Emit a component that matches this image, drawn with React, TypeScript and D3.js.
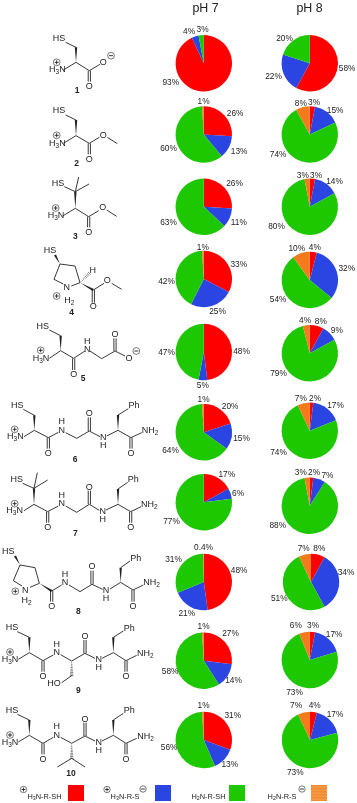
import React from 'react';
import * as d3 from 'd3';

const colours = ['#ff0000', '#2b45e2', '#1ec800', '#f47a1c'];
const ink = '#222';
const font = 'Liberation Sans, Arial, sans-serif';

// percentages, clockwise from 12 o'clock: R-SH+, R-S zwitterion, neutral thiol, thiolate
const ph7 = [
  [93, 4, 3, 0],
  [26, 13, 60, 1],
  [26, 11, 63, 0],
  [33, 25, 42, 1],
  [48, 5, 47, 0],
  [20, 15, 64, 1],
  [17, 6, 77, 0],
  [48, 21, 31, 0.4],
  [27, 14, 58, 1],
  [31, 13, 56, 1],
];
const ph8 = [
  [58, 22, 20, 0],
  [3, 15, 74, 8],
  [3, 14, 80, 3],
  [4, 32, 54, 10],
  [8, 9, 79, 4],
  [2, 17, 74, 7],
  [2, 7, 88, 3],
  [8, 34, 51, 7],
  [3, 17, 73, 6],
  [4, 17, 73, 7],
];

// pie layout
const ph7X = [203.8, 203.8, 203.8, 203.8, 203.8, 203.8, 203.8, 203.8, 203.8, 203.8];
const ph8X = [309.8, 309.8, 309.8, 309.8, 309.8, 309.8, 309.8, 311, 309.8, 310];
const ph7Y = [63.3, 134.5, 206.8, 279, 352, 432.2, 502.3, 582, 660.7, 740];
const ph8Y = [63.3, 134.5, 206.8, 280, 353.3, 430.7, 505.7, 582, 660, 740];
const radius = 28.2;

// where each % label sits relative to its pie centre (hand placed in the original figure)
type Off = [number, number];
const ph7LabelOffsets: Off[][] = [
  [[-33, 18.3], [-14.7, -32], [-1.3, -34]],
  [[31.3, -21.8], [35.3, 16.2], [-35.3, 13.8], [-0.3, -33.5]],
  [[30.7, -23.7], [35, 15.7], [-35.3, 15]],
  [[35, -14.7], [13.7, 32.3], [-37.3, 2], [-1, -32.3]],
  [[37.7, -1.3], [-1, 33.3], [-37.3, 0]],
  [[26.3, -25.8], [37.7, 5.5], [-33.3, 17.8], [-0.3, -33.5]],
  [[23, -28], [34.3, -9.7], [-32.3, 19]],
  [[35.3, -12], [-17, 31.3], [-30.3, -23.3], [-0.3, -35]],
  [[26.7, -27.7], [29.7, 19.3], [-33.7, 10.3], [-0.3, -35]],
  [[29, -25], [26, 24.3], [-34.7, 7], [-0.3, -35.3]],
];
const ph8LabelOffsets: Off[][] = [
  [[37.3, 4.7], [-36.3, 12.3], [-25.3, -25.7]],
  [[4.3, -32.8], [25.3, -24.8], [-31.7, 19.2], [-9, -31.8]],
  [[6.3, -32], [24.7, -25.7], [-33.3, 19.3], [-7, -32.3]],
  [[5, -33.3], [37, -11.7], [-31.7, 18.7], [-13, -32]],
  [[11, -32.3], [27, -23.3], [-31.3, 20], [-4.7, -33]],
  [[5.3, -32.7], [25.7, -26], [-31.3, 21], [-9, -32.3]],
  [[4.3, -33.3], [17.7, -30.3], [-32, 19], [-9, -33.3]],
  [[8.3, -34], [35, -9.7], [-31.7, 16], [-7.3, -34]],
  [[3.3, -35], [24.3, -25.7], [-15.3, 32], [-14, -34.7]],
  [[4.7, -35.3], [25, -25.7], [-14.7, 32], [-14, -35]],
];

const pie = d3.pie<number>().sort(null).value(d => d);
const arc = d3.arc<d3.PieArcDatum<number>>().innerRadius(0).outerRadius(radius);

type Seg = [number, number, number, number];
type Atom = [string, number, number];
type Mol = {
  dy: number;
  bonds: Seg[];
  doubles: Seg[];
  wedges: Seg[];
  hashes?: Seg[];
  atoms: Atom[];
  plus: [number, number];
  minus?: [number, number];
  label: Atom;
};

// structures traced at 3x page scale, dy shifts them down the page
const molecules: Mol[] = [
  {
    dy: 0,
    bonds: [[197, 127, 228, 142], [228, 187, 190, 210], [228, 187, 268, 212], [268, 212, 300, 193]],
    doubles: [[268, 212, 268, 245]],
    wedges: [[228, 187, 228, 142]],
    atoms: [['HS', 177, 113], ['H3N', 172, 207], ['O', 310, 185], ['O', 268, 257]],
    plus: [170, 187],
    minus: [333, 167],
    label: ['1', 231, 271],
  },
  {
    dy: 0,
    bonds: [[197, 345, 228, 360], [228, 407, 190, 430], [228, 407, 268, 430], [268, 430, 298, 412], [322, 412, 352, 431]],
    doubles: [[268, 430, 268, 463]],
    wedges: [[228, 407, 228, 360]],
    atoms: [['HS', 177, 330], ['H3N', 172, 427], ['O', 310, 403], ['O', 268, 476]],
    plus: [170, 406],
    label: ['2', 230, 489],
  },
  {
    dy: 0,
    bonds: [[193, 560, 226, 575], [226, 575, 236, 531], [226, 575, 267, 552], [226, 625, 188, 648], [226, 625, 266, 650], [266, 650, 296, 632], [320, 630, 350, 649]],
    doubles: [[266, 650, 266, 682]],
    wedges: [[226, 625, 226, 575]],
    atoms: [['HS', 174, 548], ['H3N', 168, 645], ['O', 308, 621], ['O', 266, 694]],
    plus: [167, 624],
    label: ['3', 226, 708],
  },
  {
    dy: 0,
    bonds: [[180, 792, 225, 798], [225, 798, 240, 848], [180, 792, 162, 838], [162, 838, 190, 852], [214, 858, 240, 848], [280, 870, 312, 850], [335, 850, 365, 868]],
    doubles: [[280, 870, 280, 908]],
    wedges: [[180, 792, 165, 765], [240, 848, 280, 870]],
    hashes: [[240, 848, 268, 820]],
    atoms: [['HS', 150, 750], ['H', 278, 810], ['N', 200, 860], ['H2', 208, 898], ['O', 322, 840], ['O', 280, 916]],
    plus: [170, 888],
    label: ['4', 215, 935],
  },
  {
    dy: 810,
    bonds: [[148, 180, 182, 197], [182, 242, 148, 265], [182, 242, 221, 265], [221, 265, 255, 243], [270, 243, 305, 266], [305, 266, 345, 243], [345, 243, 375, 258]],
    doubles: [[221, 265, 221, 300], [345, 243, 345, 205]],
    wedges: [[182, 242, 182, 197]],
    atoms: [['HS', 128, 167], ['H3N', 123, 262], ['O', 221, 312], ['N', 262, 235], ['H', 262, 213], ['O', 345, 192], ['O', 387, 262]],
    plus: [122, 241],
    minus: [409, 243],
    label: ['5', 249, 325],
  },
  {
    dy: 810,
    bonds: [[70, 418, 103, 436], [103, 481, 72, 500], [103, 481, 145, 503], [145, 503, 175, 487], [197, 488, 230, 505], [230, 505, 268, 483], [268, 483, 300, 500], [320, 498, 354, 481], [354, 435, 385, 416], [354, 481, 393, 503], [393, 503, 425, 488]],
    doubles: [[145, 503, 145, 536], [268, 483, 268, 442], [393, 503, 393, 536]],
    wedges: [[103, 481, 103, 436], [354, 481, 354, 435]],
    atoms: [['HS', 52, 405], ['H3N', 46, 497], ['O', 145, 549], ['N', 185, 478], ['H', 185, 452], ['O', 268, 429], ['N', 310, 500], ['H', 310, 523], ['Ph', 402, 405], ['O', 393, 549], ['NH2', 450, 480]],
    plus: [44, 478],
    label: ['6', 225, 568],
  },
  {
    dy: 810,
    bonds: [[68, 640, 102, 655], [102, 655, 112, 608], [102, 655, 143, 630], [102, 703, 72, 722], [102, 703, 143, 725], [143, 725, 175, 708], [197, 708, 230, 727], [230, 727, 268, 703], [268, 703, 298, 721], [318, 720, 354, 703], [354, 657, 383, 637], [354, 703, 392, 725], [392, 725, 423, 710]],
    doubles: [[143, 725, 143, 758], [268, 703, 268, 662], [392, 725, 392, 758]],
    wedges: [[102, 703, 102, 655], [354, 703, 354, 657]],
    atoms: [['HS', 50, 627], ['H3N', 44, 720], ['O', 143, 770], ['N', 185, 698], ['H', 185, 673], ['O', 268, 649], ['N', 308, 721], ['H', 308, 745], ['Ph', 400, 626], ['O', 392, 770], ['NH2', 448, 702]],
    plus: [44, 701],
    label: ['7', 226, 790],
  },
  {
    dy: 1590,
    bonds: [[60, 105, 105, 113], [105, 113, 118, 160], [60, 105, 40, 152], [40, 152, 66, 168], [90, 172, 118, 160], [155, 183, 185, 165], [207, 165, 240, 185], [240, 185, 276, 163], [276, 163, 308, 178], [330, 177, 362, 157], [362, 113, 390, 93], [362, 157, 399, 180], [399, 180, 430, 165]],
    doubles: [[155, 183, 155, 215], [276, 163, 276, 122], [399, 180, 399, 215]],
    wedges: [[60, 105, 45, 78], [118, 160, 155, 183], [362, 157, 362, 113]],
    atoms: [['HS', 25, 62], ['N', 76, 178], ['H2', 80, 208], ['O', 155, 228], ['N', 195, 155], ['H', 195, 131], ['O', 276, 108], ['N', 318, 178], ['H', 318, 203], ['Ph', 407, 83], ['O', 399, 228], ['NH2', 455, 155]],
    plus: [46, 184],
    label: ['8', 235, 243],
  },
  {
    dy: 1590,
    bonds: [[52, 305, 88, 322], [88, 368, 55, 388], [88, 368, 129, 392], [129, 392, 160, 375], [182, 374, 215, 393], [215, 393, 255, 370], [255, 370, 285, 385], [306, 385, 340, 368], [340, 322, 370, 303], [340, 368, 378, 392], [378, 392, 410, 376], [215, 437, 185, 458]],
    doubles: [[129, 392, 129, 425], [255, 370, 255, 330], [378, 392, 378, 425]],
    wedges: [[88, 368, 88, 322], [340, 368, 340, 322]],
    hashes: [[215, 393, 215, 437]],
    atoms: [['HS', 36, 291], ['H3N', 30, 386], ['O', 129, 437], ['N', 170, 365], ['H', 170, 341], ['O', 255, 316], ['N', 296, 387], ['H', 296, 410], ['Ph', 388, 292], ['O', 378, 437], ['NH2', 436, 367], ['HO', 162, 459]],
    plus: [30, 366],
    label: ['9', 235, 480],
  },
  {
    dy: 1590,
    bonds: [[52, 553, 88, 570], [88, 616, 55, 636], [88, 616, 129, 640], [129, 640, 160, 622], [182, 622, 215, 640], [215, 640, 255, 618], [255, 618, 285, 633], [306, 633, 340, 616], [340, 570, 370, 550], [340, 616, 378, 640], [378, 640, 410, 625], [215, 685, 172, 711], [215, 685, 255, 711]],
    doubles: [[129, 640, 129, 673], [255, 618, 255, 578], [378, 640, 378, 673]],
    wedges: [[88, 616, 88, 570], [340, 616, 340, 570]],
    hashes: [[215, 640, 215, 685]],
    atoms: [['HS', 36, 539], ['H3N', 30, 636], ['O', 129, 685], ['N', 170, 614], ['H', 170, 588], ['O', 255, 565], ['N', 296, 635], ['H', 296, 658], ['Ph', 388, 540], ['O', 378, 685], ['NH2', 437, 616]],
    plus: [30, 615],
    label: ['10', 213, 730],
  },
];

const Formula = ({ text, x, y, size = 9, weight = 400 }: { text: string; x: number; y: number; size?: number; weight?: number }) => {
  const parts = text.split(/(\d)/).filter(Boolean);
  const isLabel = weight > 400;
  return (
    <text x={x} y={y + size * 0.36} fontSize={size} fontWeight={weight} textAnchor="middle" fill={ink} fontFamily={font}>
      {parts.map((p, i) => {
        if (isLabel || !/\d/.test(p)) {
          const back = i > 0 && /\d/.test(parts[i - 1]) && !isLabel ? -size * 0.22 : 0;
          return <tspan key={i} dy={back}>{p}</tspan>;
        }
        return <tspan key={i} dy={size * 0.22} fontSize={size * 0.72}>{p}</tspan>;
      })}
    </text>
  );
};

const Charge = ({ x, y, sign, r = 3.4 }: { x: number; y: number; sign: '+' | '-'; r?: number }) => (
  <g stroke={ink} strokeWidth={0.6} fill="none">
    <circle cx={x} cy={y} r={r} />
    <line x1={x - r * 0.6} x2={x + r * 0.6} y1={y} y2={y} strokeWidth={0.9} />
    {sign === '+' && <line x1={x} x2={x} y1={y - r * 0.6} y2={y + r * 0.6} strokeWidth={0.9} />}
  </g>
);

const Molecule = ({ mol }: { mol: Mol }) => {
  const sx = (v: number) => v / 3;
  const sy = (v: number) => (v + mol.dy) / 3;
  const line = d3.line();
  return (
    <g>
      {mol.bonds.map((b, i) => (
        <path key={i} d={line([[sx(b[0]), sy(b[1])], [sx(b[2]), sy(b[3])]]) as string} stroke={ink} strokeWidth={0.9} fill="none" />
      ))}
      {mol.doubles.map((b, i) => (
        <g key={i} stroke={ink} strokeWidth={0.9}>
          {[-1.1, 1.1].map(o => (
            <line key={o} x1={sx(b[0]) + o} x2={sx(b[2]) + o} y1={sy(b[1])} y2={sy(b[3])} />
          ))}
        </g>
      ))}
      {mol.wedges.map((b, i) => {
        const [x0, y0, x1, y1] = [sx(b[0]), sy(b[1]), sx(b[2]), sy(b[3])];
        const len = Math.hypot(x1 - x0, y1 - y0);
        const nx = (-(y1 - y0) / len) * 1.2;
        const ny = ((x1 - x0) / len) * 1.2;
        return <path key={i} d={`M${x0},${y0}L${x1 + nx},${y1 + ny}L${x1 - nx},${y1 - ny}Z`} fill={ink} />;
      })}
      {(mol.hashes || []).map((b, i) => {
        const [x0, y0, x1, y1] = [sx(b[0]), sy(b[1]), sx(b[2]), sy(b[3])];
        const len = Math.hypot(x1 - x0, y1 - y0);
        const steps = d3.range(1, Math.floor(len / 1.6) + 1);
        return (
          <g key={i} stroke={ink} strokeWidth={0.6}>
            {steps.map(s => {
              const t = s / steps.length;
              const w = 0.3 + 1.5 * t;
              const px = x0 + (x1 - x0) * t;
              const py = y0 + (y1 - y0) * t;
              const nx = (-(y1 - y0) / len) * w;
              const ny = ((x1 - x0) / len) * w;
              return <line key={s} x1={px - nx} x2={px + nx} y1={py - ny} y2={py + ny} />;
            })}
          </g>
        );
      })}
      {mol.atoms.map((a, i) => (
        <Formula key={i} text={a[0]} x={sx(a[1])} y={sy(a[2])} />
      ))}
      <Charge x={sx(mol.plus[0])} y={sy(mol.plus[1])} sign="+" />
      {mol.minus && <Charge x={sx(mol.minus[0])} y={sy(mol.minus[1])} sign="-" />}
      <Formula text={mol.label[0]} x={sx(mol.label[1])} y={sy(mol.label[2])} size={8.5} weight={700} />
    </g>
  );
};

const Pie = ({ values, offsets, cx, cy }: { values: number[]; offsets: Off[]; cx: number; cy: number }) => {
  const slices = pie(values);
  return (
    <g transform={`translate(${cx},${cy})`}>
      {slices.map((s, i) => (
        <path key={i} d={arc(s) as string} fill={colours[i]} />
      ))}
      {slices.filter(s => s.value > 0).map((s, i) => (
        <text key={i} x={offsets[i][0]} y={offsets[i][1] + 3} fontSize={8.3} textAnchor="middle" fill={ink} fontFamily={font}>
          {s.value}%
        </text>
      ))}
    </g>
  );
};

const legendItems = [
  { text: 'H3N-R-SH', tx: 44.5, sq: 68, plus: 23.5, minus: null, colour: 0 },
  { text: 'H3N-R-S', tx: 125, sq: 155, plus: 107, minus: 143, colour: 1 },
  { text: 'H2N-R-SH', tx: 208.5, sq: 229, plus: null, minus: null, colour: 2 },
  { text: 'H2N-R-S', tx: 282, sq: 311, plus: null, minus: 302, colour: 3 },
];

export default function App() {
  return (
    <svg width={357} height={803} style={{ position: 'absolute', left: 0, top: 0, display: 'block', filter: 'blur(0.3px)' }}>
      <defs>
        <pattern id="weave" width={3} height={3} patternUnits="userSpaceOnUse">
          <rect width={3} height={3} fill="#f28a2e" />
          <path d="M0,1.2 Q0.75,0.3 1.5,1.2 T3,1.2" stroke="#f9b26b" strokeWidth={0.7} fill="none" />
        </pattern>
      </defs>
      <rect width={357} height={803} fill="#fff" />
      <text x={205.5} y={11.5} fontSize={12.4} textAnchor="middle" fill={ink} fontFamily={font}>pH 7</text>
      <text x={309.5} y={11.5} fontSize={12.4} textAnchor="middle" fill={ink} fontFamily={font}>pH 8</text>
      {molecules.map((m, i) => <Molecule key={i} mol={m} />)}
      {ph7.map((v, i) => <Pie key={i} values={v} offsets={ph7LabelOffsets[i]} cx={ph7X[i]} cy={ph7Y[i]} />)}
      {ph8.map((v, i) => <Pie key={i} values={v} offsets={ph8LabelOffsets[i]} cx={ph8X[i]} cy={ph8Y[i]} />)}
      {legendItems.map((d, i) => (
        <g key={i}>
          <Formula text={d.text} x={d.tx} y={796} size={7.4} />
          {d.plus !== null && <Charge x={d.plus} y={789.5} sign="+" r={3.2} />}
          {d.minus !== null && <Charge x={d.minus} y={789} sign="-" r={3.2} />}
          <rect x={d.sq} y={785} width={16} height={16} fill={d.colour === 3 ? 'url(#weave)' : colours[d.colour]} />
        </g>
      ))}
    </svg>
  );
}
